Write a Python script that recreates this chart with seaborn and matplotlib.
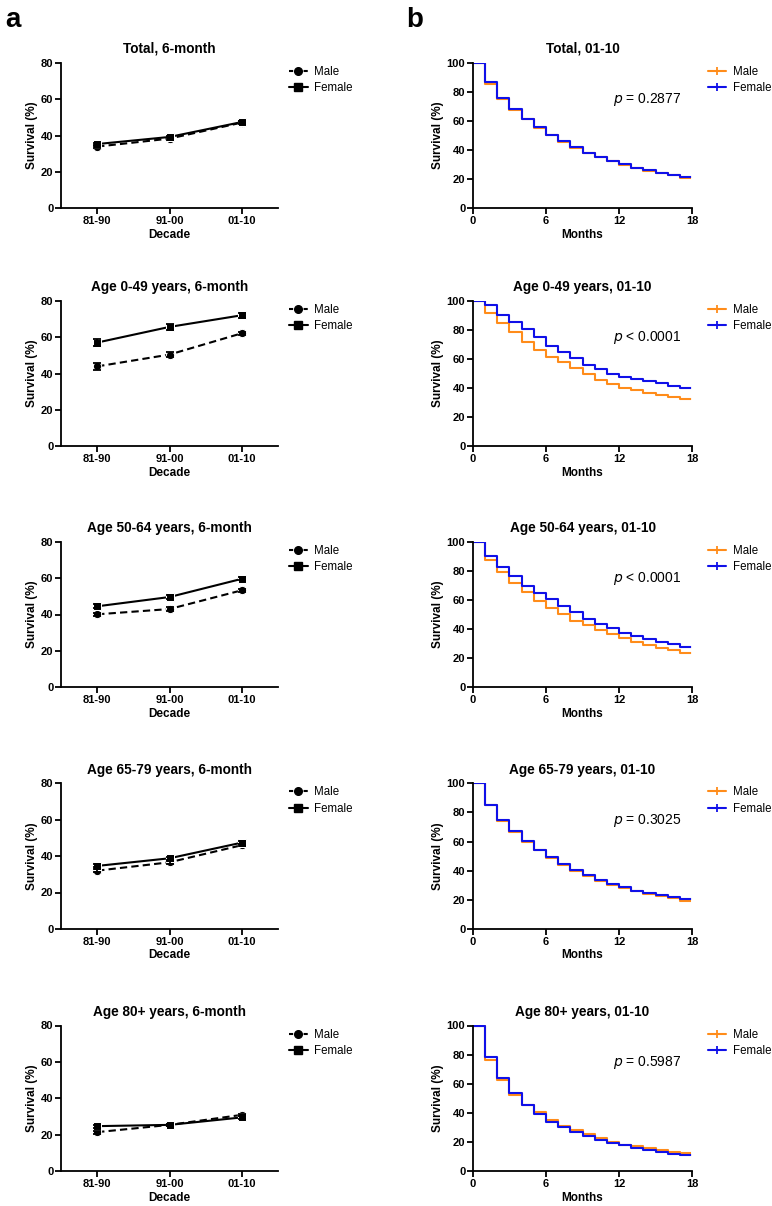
import numpy as np
import pandas as pd
import matplotlib
matplotlib.use("Agg")
import matplotlib.pyplot as plt
import seaborn as sns
from matplotlib.lines import Line2D

# panel a: 6-month survival by decade
decades = ["81-90", "91-00", "01-10"]
groups = ["Total", "Age 0-49 years", "Age 50-64 years", "Age 65-79 years", "Age 80+ years"]
male_6m = [[33.9, 38.3, 47.1],
           [43.9, 50.4, 62.1],
           [40.1, 43.0, 53.3],
           [32.0, 36.6, 46.0],
           [21.4, 25.4, 30.9]]
female_6m = [[35.3, 39.2, 47.4],
             [57.0, 65.6, 72.0],
             [44.5, 49.6, 59.6],
             [34.6, 38.8, 47.4],
             [24.7, 25.4, 29.5]]
male_se = [[0.8, 0.8, 0.7],
           [1.8, 1.6, 0.8],
           [0.9, 0.9, 0.8],
           [0.8, 0.8, 0.7],
           [0.8, 0.7, 0.7]]
female_se = [[0.8, 0.8, 0.7],
             [2.0, 1.8, 1.5],
             [1.0, 0.9, 0.8],
             [0.8, 0.8, 0.7],
             [0.8, 0.7, 0.7]]

# panel b: Kaplan-Meier, 01-10, survival (%) at months 0..17
months = list(range(0, 19))
male_km = [[100, 85.5, 75.3, 67.8, 61.0, 55.3, 50.2, 45.8, 41.7, 38.0, 35.0, 32.3, 30.0, 27.6, 25.8, 24.3, 22.8, 21.0],
           [100, 91.4, 84.7, 78.7, 71.5, 66.2, 61.3, 57.6, 53.5, 49.5, 45.8, 43.0, 40.3, 38.4, 36.6, 35.0, 33.6, 32.2],
           [100, 87.4, 79.3, 71.5, 65.3, 59.3, 54.3, 50.3, 45.7, 42.5, 39.5, 36.3, 33.6, 31.3, 29.0, 27.1, 25.7, 23.9],
           [100, 85.0, 74.0, 66.7, 59.8, 54.0, 48.5, 43.7, 39.8, 36.2, 32.8, 30.3, 28.0, 25.8, 24.0, 22.6, 21.0, 19.2],
           [100, 76.0, 62.8, 52.2, 45.7, 40.4, 34.9, 31.0, 28.0, 25.2, 22.9, 19.9, 18.2, 17.1, 15.7, 14.5, 13.4, 12.2]]
female_km = [[100, 86.5, 75.5, 68.0, 61.3, 55.6, 50.6, 46.0, 42.0, 38.2, 35.2, 32.5, 30.2, 27.9, 26.2, 24.5, 23.0, 21.7],
             [100, 96.8, 90.5, 85.4, 80.3, 75.0, 68.8, 64.6, 60.6, 55.8, 52.8, 50.0, 47.9, 46.3, 45.1, 43.5, 41.2, 40.3],
             [100, 90.1, 82.8, 76.3, 69.9, 65.0, 60.5, 55.6, 51.5, 46.9, 43.7, 40.5, 37.5, 35.2, 33.1, 30.8, 29.4, 27.8],
             [100, 85.3, 74.5, 67.4, 60.5, 54.5, 49.2, 44.6, 40.7, 37.0, 33.6, 30.8, 28.5, 26.2, 24.6, 23.0, 21.6, 20.5],
             [100, 78.1, 64.0, 53.3, 45.7, 39.0, 34.0, 30.0, 27.0, 24.0, 21.7, 19.4, 17.6, 15.7, 14.5, 13.2, 11.5, 10.9]]
p_texts = ["= 0.2877", "< 0.0001", "< 0.0001", "= 0.3025", "= 0.5987"]

MALE_C = "#ff8c1a"
FEMALE_C = "#1010e8"

sns.set_style("ticks")
plt.rcParams['font.family'] = ['Liberation Sans', 'DejaVu Sans']
plt.rcParams['axes.linewidth'] = 1.3
for k in ['text.color', 'axes.labelcolor', 'xtick.color', 'ytick.color', 'axes.edgecolor']:
    plt.rcParams[k] = 'black'

fig = plt.figure(figsize=(7.72, 12.06), dpi=100)
W, H = 772.0, 1206.0
tops = [62.7, 300.7, 541.7, 783.3, 1025.5]
ax_h = 145.6


def style_axis(ax):
    sns.despine(ax=ax)
    ax.tick_params(axis='both', direction='out', length=4, width=1.3, labelsize=8, pad=1.5)
    for lab in ax.get_xticklabels() + ax.get_yticklabels():
        lab.set_fontweight('bold')


for i, grp in enumerate(groups):
    bottom = 1 - (tops[i] + ax_h) / H
    # ---- left: 6-month survival by decade
    ax = fig.add_axes([61 / W, bottom, 217 / W, ax_h / H])
    df = pd.DataFrame({
        "Decade": decades * 2,
        "Survival": male_6m[i] + female_6m[i],
        "Sex": ["Male"] * 3 + ["Female"] * 3,
    })
    sns.lineplot(data=df, x="Decade", y="Survival", style="Sex",
                 markers={"Male": "o", "Female": "s"},
                 dashes={"Male": (3.5, 2), "Female": ""},
                 color="black", lw=1.5, markersize=6, sort=False,
                 legend=False, ax=ax)
    ax.errorbar(decades, male_6m[i], yerr=male_se[i], fmt='none', ecolor='black',
                elinewidth=1.3, capsize=3, capthick=1.3)
    ax.errorbar(decades, female_6m[i], yerr=female_se[i], fmt='none', ecolor='black',
                elinewidth=1.3, capsize=3, capthick=1.3)
    ax.set_xlim(-0.5, 2.5)
    ax.set_ylim(0, 80)
    ax.set_yticks([0, 20, 40, 60, 80])
    ax.set_xlabel("Decade", fontsize=8.5, fontweight='bold', labelpad=2)
    ax.set_ylabel("Survival (%)", fontsize=8.5, fontweight='bold', labelpad=2)
    ax.set_title(grp + ", 6-month", fontsize=9.8, fontweight='bold', pad=7)
    style_axis(ax)
    handles = [Line2D([], [], color='black', ls=(0, (2, 1.5)), marker='o', markersize=5.5, lw=1.5),
               Line2D([], [], color='black', ls='-', marker='s', markersize=5.5, lw=1.5)]
    ax.legend(handles, ["Male", "Female"], loc='upper left', bbox_to_anchor=(1.03, 1.01),
              frameon=False, fontsize=8.3, handlelength=1.6, handletextpad=0.6,
              labelspacing=0.4, borderaxespad=0)

    # ---- right: Kaplan-Meier curves
    ax2 = fig.add_axes([473 / W, bottom, 219 / W, ax_h / H])
    for vals, col in [(male_km[i], MALE_C), (female_km[i], FEMALE_C)]:
        sns.lineplot(x=months, y=vals + [vals[-1]], drawstyle='steps-post', color=col,
                     lw=1.5, marker='|', markevery=[18], markersize=6, mew=1.3,
                     ax=ax2)
    ax2.set_xlim(0, 18)
    ax2.set_ylim(0, 100)
    ax2.set_xticks([0, 6, 12, 18])
    ax2.set_yticks([0, 20, 40, 60, 80, 100])
    ax2.set_xlabel("Months", fontsize=8.5, fontweight='bold', labelpad=2)
    ax2.set_ylabel("Survival (%)", fontsize=8.5, fontweight='bold', labelpad=2)
    ax2.set_title(grp + ", 01-10", fontsize=9.8, fontweight='bold', pad=7)
    style_axis(ax2)
    ax2.text(0.64, 0.745, r"$\it{p}$ " + p_texts[i], transform=ax2.transAxes,
             fontsize=10, va='center', ha='left')
    handles2 = [Line2D([], [], color=MALE_C, lw=1.5, marker='|', markersize=6, mew=1.3),
                Line2D([], [], color=FEMALE_C, lw=1.5, marker='|', markersize=6, mew=1.3)]
    ax2.legend(handles2, ["Male", "Female"], loc='upper left', bbox_to_anchor=(1.05, 1.01),
               frameon=False, fontsize=8.3, handlelength=1.6, handletextpad=0.6,
               labelspacing=0.4, borderaxespad=0)

fig.text(5 / W, 1 - 27 / H, "a", fontsize=20, fontweight='bold')
fig.text(406 / W, 1 - 27 / H, "b", fontsize=20, fontweight='bold')

plt.savefig("out.png", dpi=100)
